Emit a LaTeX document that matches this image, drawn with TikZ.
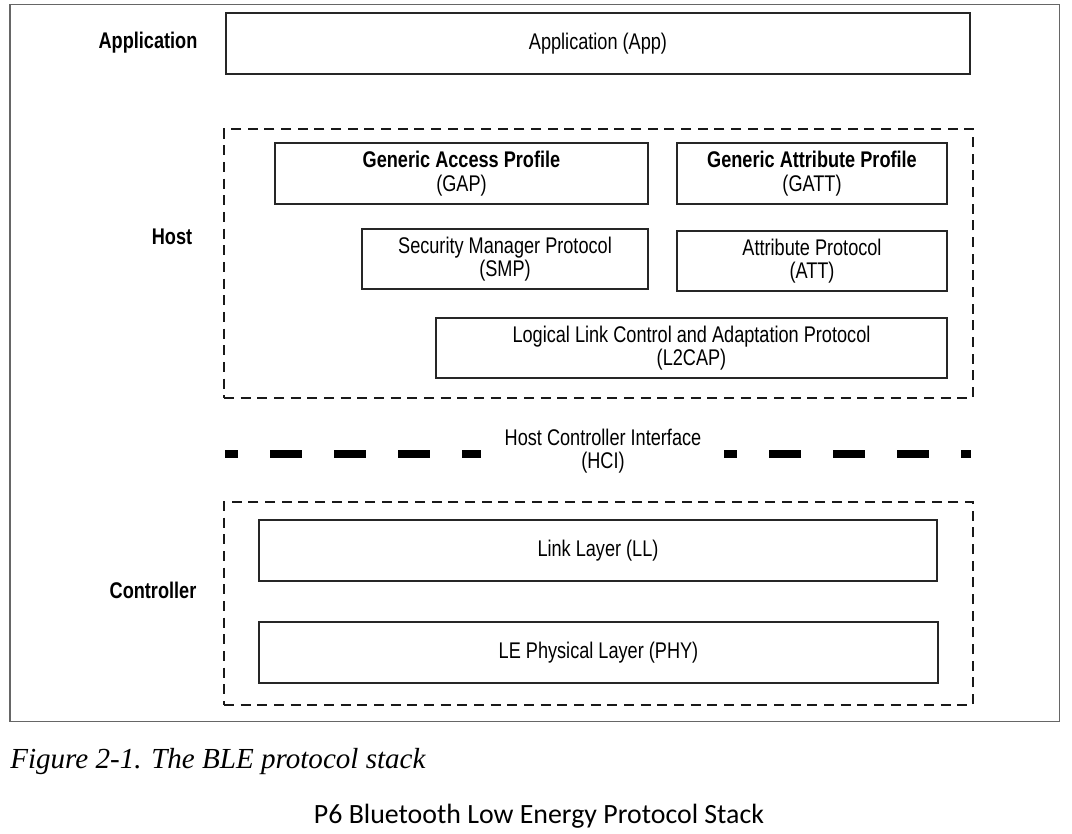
\documentclass[tikz,border=0pt]{standalone}
\usepackage{fontspec}
\newfontfamily\cond{Liberation Sans}[FakeStretch=0.8]
\newfontfamily\capfont{Liberation Serif}
\newfontfamily\calib{Carlito}
\begin{document}
\begin{tikzpicture}[x=0.75pt,y=-0.75pt,
  wh/.style 2 args={minimum width=#1*0.75pt,minimum height=#2*0.75pt},
  box/.style={draw=black!85,line width=1.9pt,inner sep=0pt,font=\cond\fontsize{17}{17.5}\selectfont,align=center},
  group/.style={draw=black!90,line width=1.8pt,dash pattern=on 7.5pt off 5pt,inner sep=0pt},
  lbl/.style={font=\cond\bfseries\fontsize{17}{17.5}\selectfont,inner sep=0pt},
  hci/.style={line width=6pt,dash pattern=on 24pt off 24pt,dash phase=14pt}]
\useasboundingbox (0,0) rectangle (1072,833);
\fill[white] (0,0) rectangle (1072,833);
\node[draw=black!60,line width=1.1pt,inner sep=0pt,wh={1049.5}{717}] (frame) at (534.75,363) {};
% application
\node[box,wh={744}{61}] (app) at (598,43.5) {Application (App)};
\node[lbl] (applbl) at (148,43) {Application};
% host
\node[group,wh={749}{269}] (host) at (598.5,263.5) {};
\node[lbl] (hostlbl) at (172,237) {Host};
\node[box,wh={373}{61}] (gap) at (461.5,173.5) {\textbf{Generic Access Profile}\\(GAP)};
\node[box,wh={270}{61}] (gatt) at (812,173.5) {\textbf{Generic Attribute Profile}\\(GATT)};
\node[box,wh={286}{60}] (smp) at (505,259) {Security Manager Protocol\\(SMP)};
\node[box,wh={270}{60}] (att) at (812,261) {Attribute Protocol\\(ATT)};
\node[box,wh={511}{60}] (l2cap) at (691.5,348) {Logical Link Control and Adaptation Protocol\\(L2CAP)};
% HCI
\node[font=\cond\fontsize{17}{17.5}\selectfont,align=center,inner sep=0pt] (hcilbl) at (603,451) {Host Controller Interface\\(HCI)};
\coordinate (hl1) at (225,454);
\coordinate (hl2) at (481,454);
\coordinate (hr1) at (724,454);
\coordinate (hr2) at (971,454);
\draw[hci] (hl1) -- (hl2);
\draw[hci] (hr1) -- (hr2);
% controller
\node[group,wh={749}{203}] (ctrl) at (598.5,603.5) {};
\node[lbl] (ctrllbl) at (153,590) {Controller};
\node[box,wh={678}{61}] (ll) at (598,550.5) {Link Layer (LL)};
\node[box,wh={679}{61}] (phy) at (598.5,652.5) {LE Physical Layer (PHY)};
% captions
\node[anchor=base west,inner sep=0pt,font=\capfont\itshape\fontsize{21.8}{24}\selectfont] (cap) at (10,768) {Figure 2-1. The BLE protocol stack};
\node[anchor=base,inner sep=0pt,font=\calib\fontsize{20.9}{24}\selectfont] (sub) at (539,823) {P6 Bluetooth Low Energy Protocol Stack};
\end{tikzpicture}
\end{document}
